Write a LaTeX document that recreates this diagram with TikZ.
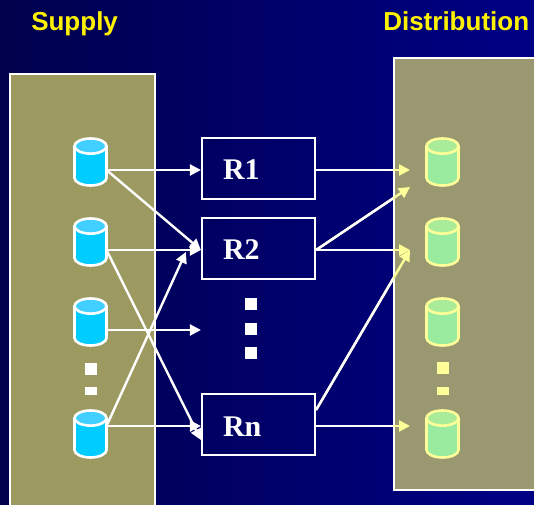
\documentclass[tikz,border=0pt]{standalone}
\usepackage{fontspec}
\setmainfont{Liberation Serif}
\newfontfamily\headfont{Liberation Sans}
\usetikzlibrary{arrows.meta,shapes.geometric}

\definecolor{bgdark}{HTML}{00004C}
\definecolor{bglight}{HTML}{000085}
\definecolor{panelS}{HTML}{9C9A60}
\definecolor{panelD}{HTML}{9A9870}
\definecolor{cylS}{HTML}{00CCFF}
\definecolor{cylStop}{HTML}{40CFFF}
\definecolor{cylD}{HTML}{99EB9F}
\definecolor{cylDtop}{HTML}{A8EB99}
\definecolor{paley}{HTML}{FFFF99}

\def\px{0.75pt}

\tikzset{
	panel/.style={draw=white,line width=2*\px},
	cyl/.style={shape=cylinder,shape border rotate=90,shape aspect=1.7,draw,line width=2.6*\px,anchor=shape center,
		minimum height=47*\px,minimum width=32*\px,cylinder uses custom fill},
	cylsup/.style={cyl,draw=white,cylinder body fill=cylS,cylinder end fill=cylStop},
	cyldis/.style={cyl,draw=paley,cylinder body fill=cylD,cylinder end fill=cylDtop},
	rbox/.style={draw=white,line width=2.2*\px,minimum height=61*\px,inner xsep=21*\px,inner ysep=0pt,
		text width=71*\px,text height=23*\px,text depth=0pt,text=white,font=\fontsize{22.5}{24}\selectfont\bfseries},
	head/.style={anchor=base west,inner sep=0pt,text=yellow,font=\headfont\fontsize{19.5}{22}\selectfont\bfseries},
	dotbig/.style={inner sep=0pt,minimum width=12*\px,minimum height=12*\px},
	dotlow/.style={inner sep=0pt,minimum width=12*\px,minimum height=8*\px},
	flow/.style={line width=2.4*\px,-{Triangle[length=11*\px,width=11*\px]}},
	flowhi/.style={line width=2.4*\px,white}
}

\begin{document}
\begin{tikzpicture}[x=\px,y=-\px]
	\clip[use as bounding box] (0,0) rectangle (534,505);
	\shade[left color=bgdark,right color=bglight] (0,0) rectangle (534,505);

	\node[head] (supply) at (31,31) {Supply};
	\node[head] (distribution) at (383,31) {Distribution};

	%% Panels
	\filldraw[panel,fill=panelS] (10,74) rectangle (155,520);
	\filldraw[panel,fill=panelD] (394,58) rectangle (550,490);

	%% Databases
	\foreach \n/\ypos/\off in {1/162/-8,2/242/-8,3/322/-8,4/434/8} {
		\node[cylsup] (s\n) at (90.5,\ypos) {};
		\node[cyldis] (d\n) at (442.5,\ypos) {};
		\coordinate (s\n o) at ([xshift=16*\px,yshift=\off*\px]s\n.shape center);
		\coordinate (d\n i) at ([xshift=-32.5*\px,yshift=\off*\px]d\n.shape center);
	}

	%% Replica boxes
	\node[rbox] (R1) at (258.5,168.5) {R1};
	\node[rbox] (R2) at (258.5,248.5) {R2};
	\node[rbox] (Rn) at (258.5,424.5) {Rn};

	%% Elided rows
	\foreach \n/\ypos in {1/304,2/329,3/353}
		\node[dotbig,fill=white] (m\n) at (250.5,\ypos) {};
	\node[dotbig,fill=white] (sa) at (90.5,368.5) {};
	\node[dotlow,fill=white] (sb) at (90.5,391) {};
	\node[dotbig,fill=paley] (da) at (442.5,368) {};
	\node[dotlow,fill=paley] (db) at (442.5,391) {};

	\coordinate (m3i) at (R2.west |- s3o);
	\coordinate (d1j) at ([yshift=-17*\px]d1i);
	\coordinate (R2b) at (R2.west |- 0,252);
	\coordinate (Rnb) at (Rn.west |- 0,440);
	\coordinate (Rno) at (Rn.east |- 0,410);

	%% Supply side
	\draw[flow,white] (s1o) -- (R1.west |- s1o);
	\draw[flow,white] (s1o) -- (R2.west |- s2o);
	\draw[flow,white] (s2o) -- (R2.west |- s2o);
	\draw[flow,white] (s2o) -- (Rnb);
	\draw[flow,white] (s3o) -- (m3i);
	\draw[flow,white] (s4o) -- (Rn.west |- s4o);
	\draw[flow,white] (s4o) -- ([xshift=-15*\px]R2b);

	%% Distribution side
	\draw[flow,paley] (R1.east |- d1i) -- (d1i);
	\draw[flow,paley] (R2.east |- d2i) -- (d1j);
	\draw[flow,paley] (R2.east |- d2i) -- (d2i);
	\draw[flow,paley] (Rno) -- (d2i);
	\draw[flow,paley] (Rn.east |- d4i) -- (d4i);
	\begin{scope}
		\clip (0,0) rectangle (393,505);
		\draw[flowhi] (R1.east |- d1i) -- (d1i);
		\draw[flowhi] (R2.east |- d2i) -- (d1j);
		\draw[flowhi] (R2.east |- d2i) -- (d2i);
		\draw[flowhi] (Rno) -- (d2i);
		\draw[flowhi] (Rn.east |- d4i) -- (d4i);
	\end{scope}
\end{tikzpicture}
\end{document}
